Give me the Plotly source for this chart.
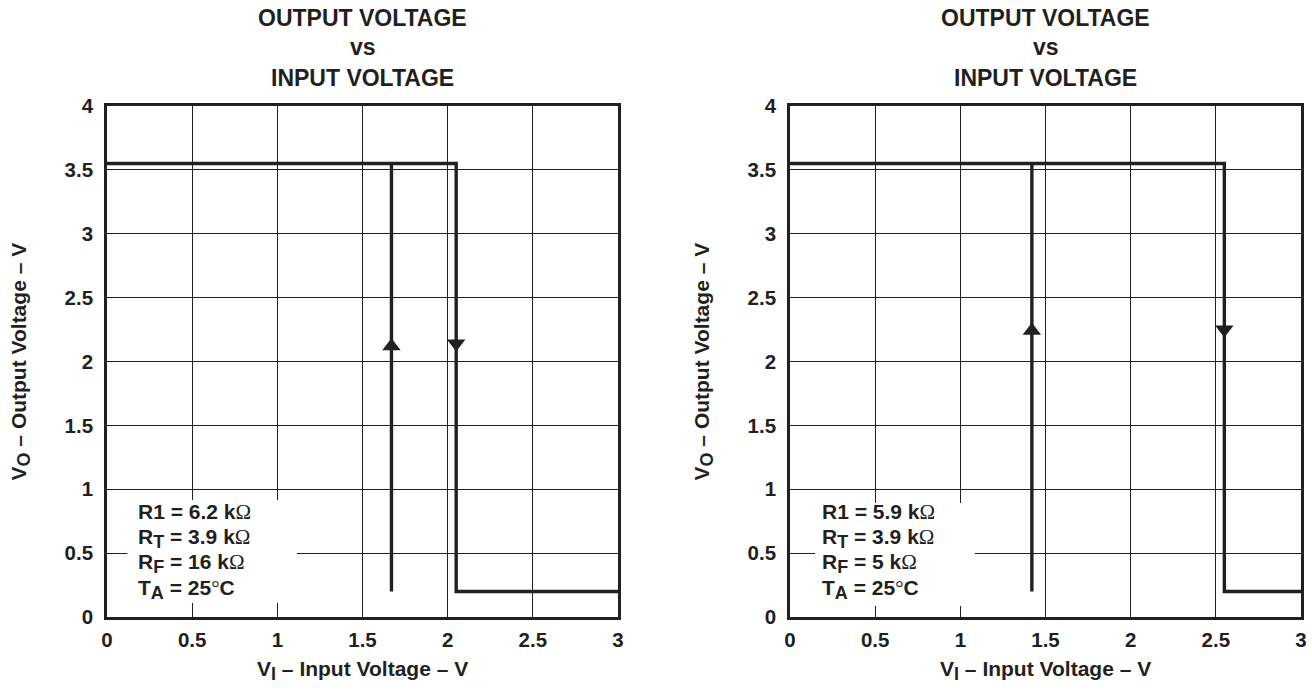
import plotly.graph_objects as go

W, H = 1312, 691

# ---- data ----
x_ticks = [0, 0.5, 1, 1.5, 2, 2.5, 3]
x_tick_labels = ["0", "0.5", "1", "1.5", "2", "2.5", "3"]
y_ticks = [0, 0.5, 1, 1.5, 2, 2.5, 3, 3.5, 4]
y_tick_labels = ["0", "0.5", "1", "1.5", "2", "2.5", "3", "3.5", "4"]

v_high = 3.55
v_low = 0.2

# left panel thresholds
left_vt_minus = 1.67   # rising transition
left_vt_plus = 2.05    # falling transition
# right panel thresholds
right_vt_minus = 1.42
right_vt_plus = 2.55

left_arrow_y = [2.12, 2.14]    # up, down
right_arrow_y = [2.24, 2.25]

left_params = ["R1 = 6.2 k{O}", "R{T} = 3.9 k{O}", "R{F} = 16 k{O}", "T{A} = 25{D}C"]
right_params = ["R1 = 5.9 k{O}", "R{T} = 3.9 k{O}", "R{F} = 5 k{O}", "T{A} = 25{D}C"]

INK = "#231f20"
FONT = "Liberation Sans"
SYM = "<span style='font-family:Liberation Serif;font-weight:normal'>{}</span>"
SUB = "<sub><span style='font-size:18px'>{}</span></sub>"

def fmt(s):
    s = s.replace("{O}", SYM.format("Ω")).replace("{D}", SYM.format("°"))
    for k in ["T", "F", "A"]:
        s = s.replace("{" + k + "}", SUB.format(k))
    return s

fig = go.Figure()

panels = [
    dict(x0=107, x1=618, xa="x", ya="y", vtm=left_vt_minus, vtp=left_vt_plus,
         ay=left_arrow_y, params=left_params, box=(0.12, 1.115, 0.11, 0.916), tx=136),
    dict(x0=790, x1=1301, xa="x2", ya="y2", vtm=right_vt_minus, vtp=right_vt_plus,
         ay=right_arrow_y, params=right_params, box=(0.147, 1.086, 0.086, 0.892), tx=820),
]
py0, py1 = 106, 617

shapes = []
annotations = []

for i, p in enumerate(panels):
    fig.add_trace(go.Scatter(
        x=[0, p["vtp"], p["vtp"], 3], y=[v_high, v_high, v_low, v_low],
        mode="lines", line=dict(color=INK, width=3.4), xaxis=p["xa"], yaxis=p["ya"],
        showlegend=False, hoverinfo="skip"))
    fig.add_trace(go.Scatter(
        x=[p["vtm"], p["vtm"]], y=[v_low, v_high],
        mode="lines", line=dict(color=INK, width=3.4), xaxis=p["xa"], yaxis=p["ya"],
        showlegend=False, hoverinfo="skip"))
    fig.add_trace(go.Scatter(
        x=[p["vtm"]], y=[p["ay"][0]], mode="markers",
        marker=dict(symbol="triangle-up", size=16, color=INK),
        xaxis=p["xa"], yaxis=p["ya"], showlegend=False, hoverinfo="skip"))
    fig.add_trace(go.Scatter(
        x=[p["vtp"]], y=[p["ay"][1]], mode="markers",
        marker=dict(symbol="triangle-down", size=16, color=INK),
        xaxis=p["xa"], yaxis=p["ya"], showlegend=False, hoverinfo="skip"))

    bx0, bx1, by0, by1 = p["box"]
    shapes.append(dict(type="rect", xref=p["xa"], yref=p["ya"], x0=bx0, x1=bx1, y0=by0, y1=by1,
                       fillcolor="white", line=dict(width=0), layer="between"))

    cx = (p["x0"] + p["x1"]) / 2
    for txt, yy in [("OUTPUT VOLTAGE", 18), ("vs", 47), ("INPUT VOLTAGE", 78)]:
        annotations.append(dict(text=f"<b>{txt}</b>", x=cx / W, y=1 - yy / H, xref="paper", yref="paper",
                                showarrow=False, xanchor="center", yanchor="middle",
                                font=dict(family=FONT, size=23, color=INK)))
    annotations.append(dict(text="<b>V" + SUB.format("I") + " – Input Voltage – V</b>", x=cx / W, y=1 - 670 / H,
                            xref="paper", yref="paper", showarrow=False, xanchor="center", yanchor="middle",
                            font=dict(family=FONT, size=21, color=INK)))
    annotations.append(dict(text="<b>V" + SUB.format("O") + " – Output Voltage – V</b>", x=(p["x0"] - 87) / W,
                            y=1 - ((py0 + py1) / 2) / H, xref="paper", yref="paper", showarrow=False,
                            textangle=-90, xanchor="center", yanchor="middle",
                            font=dict(family=FONT, size=21, color=INK)))
    for j, (txt, yy) in enumerate(zip(p["params"], [512, 538, 563, 589])):
        annotations.append(dict(text="<b>" + fmt(txt) + "</b>", x=p["tx"] / W, y=1 - yy / H,
                                xref="paper", yref="paper", showarrow=False, xanchor="left",
                                yanchor="middle", font=dict(family=FONT, size=21, color=INK)))

ax_common = dict(range=[0, 3], tickvals=x_ticks, ticktext=x_tick_labels, showgrid=True,
                 gridcolor=INK, gridwidth=1, zeroline=False, showline=True, linecolor=INK,
                 linewidth=2.6, mirror=True, ticks="", ticklabelstandoff=3, automargin=False,
                 tickfont=dict(family=FONT, size=20.5, color=INK, weight="bold"))
ay_common = dict(range=[0, 4], tickvals=y_ticks, ticktext=y_tick_labels, showgrid=True,
                 gridcolor=INK, gridwidth=1, zeroline=False, showline=True, linecolor=INK,
                 linewidth=2.6, mirror=True, ticks="", ticklabelstandoff=7, automargin=False,
                 tickfont=dict(family=FONT, size=20.5, color=INK, weight="bold"))

yd = [1 - py1 / H, 1 - py0 / H]
fig.update_layout(
    width=W, height=H, margin=dict(l=0, r=0, t=0, b=0, autoexpand=False),
    paper_bgcolor="white", plot_bgcolor="white",
    xaxis=dict(ax_common, domain=[107 / W, 618 / W], anchor="y"),
    yaxis=dict(ay_common, domain=yd, anchor="x"),
    xaxis2=dict(ax_common, domain=[790 / W, 1301 / W], anchor="y2"),
    yaxis2=dict(ay_common, domain=yd, anchor="x2"),
    shapes=shapes, annotations=annotations,
    font=dict(family=FONT, color=INK),
)

fig.write_html("out.html", config={"displayModeBar": False},
               post_script="document.body.style.margin='0';document.body.style.overflow='hidden';")
